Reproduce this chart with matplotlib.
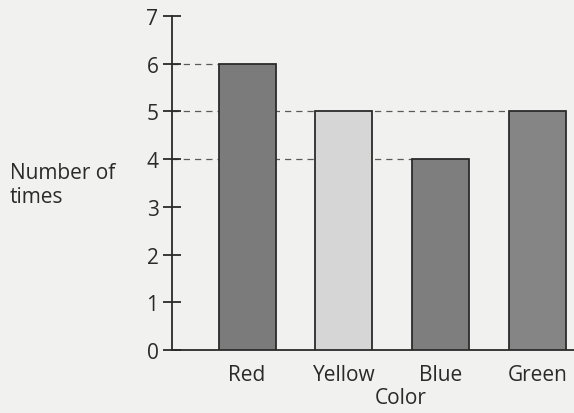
import matplotlib.pyplot as plt
import numpy as np

# Data
colors = ['Red', 'Yellow', 'Blue', 'Green']
counts = [6, 5, 4, 5]
bar_fill = ['#7b7b7b', '#d6d6d6', '#7e7e7e', '#858585']
y_ticks = [0, 1, 2, 3, 4, 5, 6, 7]

plt.rcParams['font.family'] = ['Open Sans', 'DejaVu Sans']

fig = plt.figure(figsize=(5.74, 4.14), dpi=100)
fig.patch.set_facecolor('#f1f1ef')
ax = fig.add_axes([0.2997, 0.152, 0.7003, 0.807])
ax.set_facecolor('#f1f1ef')

x = np.arange(len(colors))
width = 0.59
ax.bar(x, counts, width=width, color=bar_fill, edgecolor='#2b2b2b',
       linewidth=1.3, zorder=3)

# dashed guide lines from the axis to the last bar that reaches that height
xmin = -0.776
for i, v in enumerate(counts):
    if i != len(counts) - 1 - counts[::-1].index(v):
        continue
    ax.hlines(v, xmin, x[i] - width / 2, colors='#5a5a5a', linestyles=(0, (5, 4)),
              linewidth=0.9, zorder=1)

ax.set_xlim(xmin, 3.38)
ax.set_ylim(0, 7)
ax.set_yticks(y_ticks)
ax.set_xticks(x)
ax.set_xticklabels(colors, fontsize=15, color='#2a2a2a')
ax.tick_params(axis='x', length=0, pad=10)
ax.tick_params(axis='y', direction='inout', length=13.5, width=1.3,
               color='#2a2a2a', labelsize=15, labelcolor='#2a2a2a', pad=3)

for s in ['top', 'right']:
    ax.spines[s].set_visible(False)
for s in ['left', 'bottom']:
    ax.spines[s].set_color('#2a2a2a')
    ax.spines[s].set_linewidth(1.3)

ax.set_xlabel('Color', fontsize=15, color='#2a2a2a')
ax.xaxis.set_label_coords(0.57, -0.112)
fig.text(0.017, 0.552, 'Number of\ntimes', fontsize=15, color='#2a2a2a',
         ha='left', va='center', linespacing=1.2)

fig.savefig('out.png', dpi=100, facecolor=fig.get_facecolor())
